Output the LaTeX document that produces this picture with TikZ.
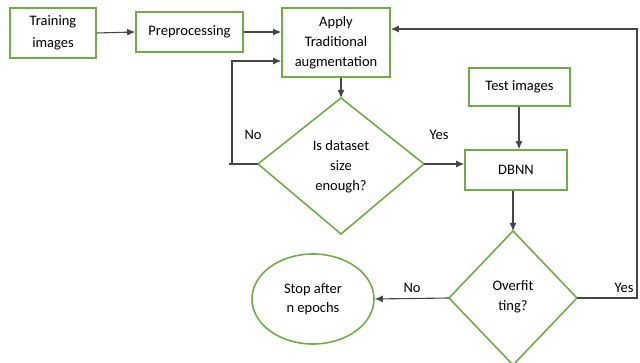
\documentclass[tikz,border=0pt]{standalone}
\usepackage{fontspec}
\setmainfont{Carlito}
\usetikzlibrary{shapes.geometric,arrows.meta}
\definecolor{offgreen}{RGB}{112,173,71}
\definecolor{lineg}{RGB}{70,70,70}
\begin{document}
\begin{tikzpicture}[x=1pt,y=-1pt,
  font=\fontsize{14.5}{20}\selectfont,
  box/.style={draw=offgreen,line width=1.6pt,align=center,inner sep=0pt},
  arr/.style={draw=lineg,line width=1.1pt,-{Latex[length=8pt,width=7pt]}},
  ln/.style={draw=lineg,line width=1.1pt}]
\useasboundingbox (0,0) rectangle (640,363);
\node[box,minimum width=86pt,minimum height=50pt,font=\fontsize{14.5}{22}\selectfont] (train) at (53,33) {Training\\images};
\node[box,minimum width=107pt,minimum height=40pt] (prep) at (189.5,32) {Preprocessing};
\node[box,minimum width=108pt,minimum height=69pt] (aug) at (336,42.5) {Apply\\Traditional\\augmentation};
\node[box,minimum width=101pt,minimum height=38pt] (test) at (519.5,87) {Test images};
\node[box,minimum width=102pt,minimum height=40pt] (dbnn) at (516,170) {DBNN};
\draw[offgreen,line width=1.6pt] (258,164) -- (341,98) -- (424,164) -- (341,234) -- cycle;
\node[align=center] (q1) at (341,167) {Is dataset\\size\\enough?};
\coordinate (q1l) at (258,164); \coordinate (q1r) at (424,164); \coordinate (q1t) at (341,98);
\draw[offgreen,line width=1.6pt] (449,298) -- (513,231) -- (577,298) -- (513,365) -- cycle;
\node[align=center] (q2) at (513,297) {Overfit\\ting?};
\coordinate (q2l) at (449,298); \coordinate (q2r) at (577,298); \coordinate (q2t) at (513,231);
\node[draw=offgreen,line width=1.6pt,ellipse,minimum width=122pt,minimum height=90pt,align=center,font=\fontsize{14.5}{19}\selectfont] (stop) at (313,299) {Stop after\\n epochs};
\draw[arr] (train.east) -- (prep.west);
\draw[arr] (prep.east) -- (aug.west |- prep.east);
\draw[arr] (q1t |- aug.south) -- (q1t);
\draw[arr] (q1r) -- (dbnn.west |- q1r);
\draw[arr] (test.south -| 519,0) -- (dbnn.north -| 519,0);
\draw[arr] (dbnn.south -| 513,0) -- (q2t);
\draw[arr] (q2l) -- (stop.east);
\coordinate (lp) at (232,164);
\coordinate (lpt) at (232,61);
\draw[ln] (229,164) -- (q1l);
\draw[arr] (lp) -- (lpt) -- (aug.west |- lpt);
\coordinate (rb) at (637,298);
\coordinate (rt) at (637,29);
\draw[arr] (q2r) -- (rb) -- (rt) -- (aug.east |- rt);
\node at (253,135) {No};
\node at (439,135) {Yes};
\node at (412,288) {No};
\node at (624,288) {Yes};
\end{tikzpicture}
\end{document}
